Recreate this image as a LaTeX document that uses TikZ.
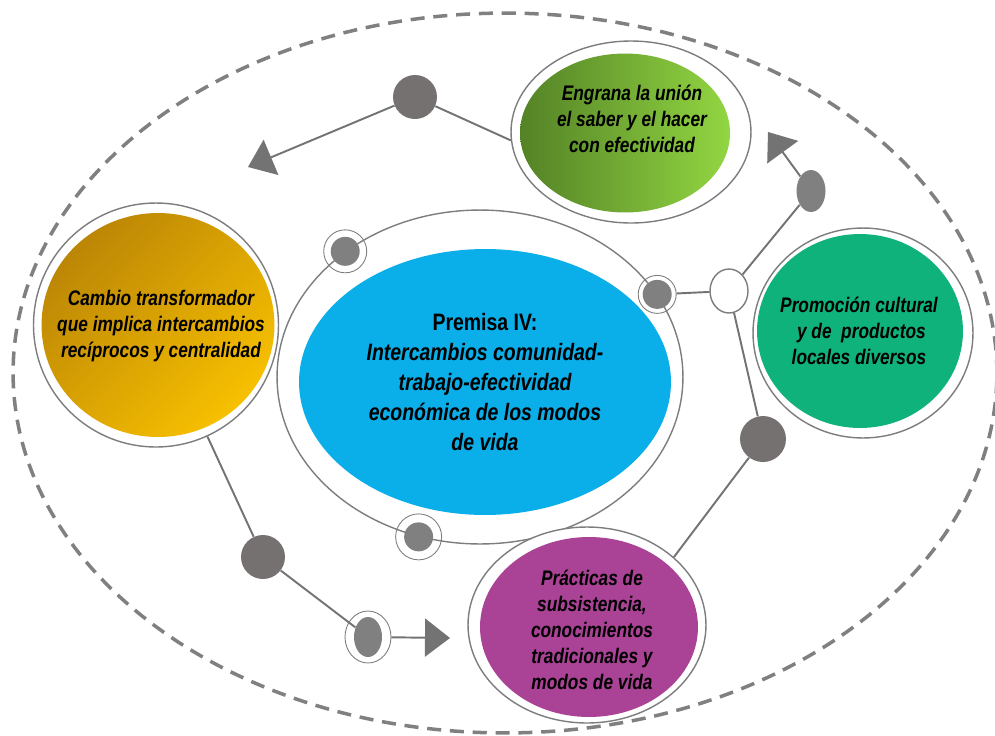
\documentclass[tikz,border=0pt]{standalone}
\usepackage{fontspec}
\setmainfont{Liberation Sans}[FakeStretch=0.82]
\usepackage{tikz}
\usetikzlibrary{shapes.geometric, arrows.meta}
\definecolor{premblue}{RGB}{10,174,232}
\definecolor{golddark}{RGB}{188,134,6}
\definecolor{goldlight}{RGB}{247,192,0}
\definecolor{greendark}{RGB}{84,130,38}
\definecolor{greenlight}{RGB}{146,214,66}
\definecolor{promgreen}{RGB}{16,178,124}
\definecolor{practpurple}{RGB}{170,66,150}
\definecolor{dotgrey}{RGB}{118,113,113}
\definecolor{midgrey}{RGB}{128,128,128}
\definecolor{linegrey}{RGB}{115,115,115}
\definecolor{ringgrey}{RGB}{125,125,125}
\definecolor{dashgrey}{RGB}{128,128,128}
\tikzstyle{ringline} = [ellipse, draw=ringgrey, line width=0.8pt, inner sep=0pt]
\tikzstyle{bubble} = [ellipse, inner sep=0pt]
\tikzstyle{txt} = [align=center, font=\fontsize{12}{14.8}\selectfont\bfseries\itshape]
\tikzstyle{bigtxt} = [align=center, font=\fontsize{13.5}{17}\selectfont\bfseries\itshape]
\tikzstyle{greydot} = [circle, fill=dotgrey, inner sep=0pt, minimum size=0.88cm]
\tikzstyle{smalldot} = [ellipse, fill=midgrey, inner sep=0pt, minimum width=0.58cm, minimum height=0.58cm]
\tikzstyle{dotring} = [ellipse, draw=ringgrey, line width=0.5pt, inner sep=0pt, minimum width=0.86cm, minimum height=0.86cm]
\tikzstyle{link} = [draw=linegrey, line width=1.1pt]
\tikzstyle{arrow} = [link, -{Triangle[length=0.5cm, width=0.76cm]}]
\tikzstyle{dashedline} = [draw=dashgrey, line width=2pt, dash pattern=on 8pt off 5pt]

\begin{document}
\begin{tikzpicture}[x=0.02cm, y=-0.02cm]
\useasboundingbox (0,0) rectangle (995,735);
\draw [dashedline] (505,373) ellipse [x radius=9.84cm, y radius=7.2cm];

\node (hub) [ringline, minimum width=8.12cm, minimum height=6.68cm] at (480,377) {};
\node (premisa) [bubble, fill=premblue, minimum width=7.44cm, minimum height=5.32cm] at (485,382) {};
\node (premisatext) [bigtxt] at (485,382) {\textup{Premisa IV:}\\Intercambios comunidad-\\trabajo-efectividad\\económica de los modos\\de vida};

\node (cambio) [ringline, fill=white, minimum width=4.9cm, minimum height=4.88cm] at (156,325) {};
\node (cambiofill) [bubble, top color=golddark, bottom color=goldlight, shading angle=45, minimum width=4.66cm, minimum height=4.48cm] at (158,325) {};
\node (cambiotext) [txt] at (161,326) {Cambio transformador\\que implica intercambios\\recíprocos y centralidad};

\node (engrana) [ringline, fill=white, minimum width=4.8cm, minimum height=3.64cm] at (631,132) {};
\node (engranafill) [bubble, left color=greendark, right color=greenlight, minimum width=4.2cm, minimum height=3.18cm] at (625,133) {};
\node (engranatext) [txt] at (632,119) {Engrana la unión\\el saber y el hacer\\con efectividad};

\node (promocion) [ringline, fill=white, minimum width=4.4cm, minimum height=4.2cm] at (863,333) {};
\node (promocionfill) [bubble, fill=promgreen, minimum width=4.12cm, minimum height=3.88cm] at (860,331) {};
\node (promociontext) [txt] at (859,331) {Promoción cultural\\\ y de\ \ productos\\locales diversos};

\node (practicas) [ringline, fill=white, minimum width=4.76cm, minimum height=3.92cm] at (587,625) {};
\node (practicasfill) [bubble, fill=practpurple, minimum width=4.36cm, minimum height=3.6cm] at (589,627) {};
\node (practicastext) [txt] at (592,630) {Prácticas de\\subsistencia,\\conocimientos\\tradicionales y\\modos de vida};

\node (d1) [greydot] at (415,97) {};
\node (d2ring) [dotring] at (hub.137) {};
\node (d2) [smalldot] at (hub.137) {};
\node (d3ring) [dotring, minimum width=0.76cm, minimum height=0.76cm] at (hub.25) {};
\node (d3) [smalldot] at (hub.25) {};
\node (d4ring) [dotring, minimum width=0.92cm, minimum height=0.92cm] at (hub.249) {};
\node (d4) [smalldot] at (hub.249) {};
\node (hollow) [ellipse, draw=ringgrey, line width=0.8pt, fill=white, minimum width=0.76cm, minimum height=0.88cm, inner sep=0pt] at (729,291) {};
\node (d5) [smalldot, minimum height=0.84cm] at (811,191) {};
\node (d6) [greydot, minimum size=0.92cm] at (763,439) {};
\node (d7) [greydot] at (263,557) {};
\node (d8ring) [dotring, minimum width=0.92cm, minimum height=1.04cm] at (368,637) {};
\node (d8) [smalldot, minimum width=0.56cm, minimum height=0.8cm] at (368,637) {};

\coordinate (tipA) at (248,167);
\coordinate (tipB) at (768,132);
\coordinate (tipC) at (450,638);

\draw [arrow] (d1) -- (tipA);
\draw [link] (d1) -- (engrana.184);
\draw [link] (d3ring) -- (hollow);
\draw [link] (hollow) -- (d5);
\draw [arrow] (d5) -- (tipB);
\draw [link] (hollow) -- (d6);
\draw [link] (d6) -- (practicas.38);
\draw [link] (cambio) -- (d7);
\draw [link] (d7) -- (d8);
\draw [arrow] (d8ring) -- (tipC);
\end{tikzpicture}
\end{document}
